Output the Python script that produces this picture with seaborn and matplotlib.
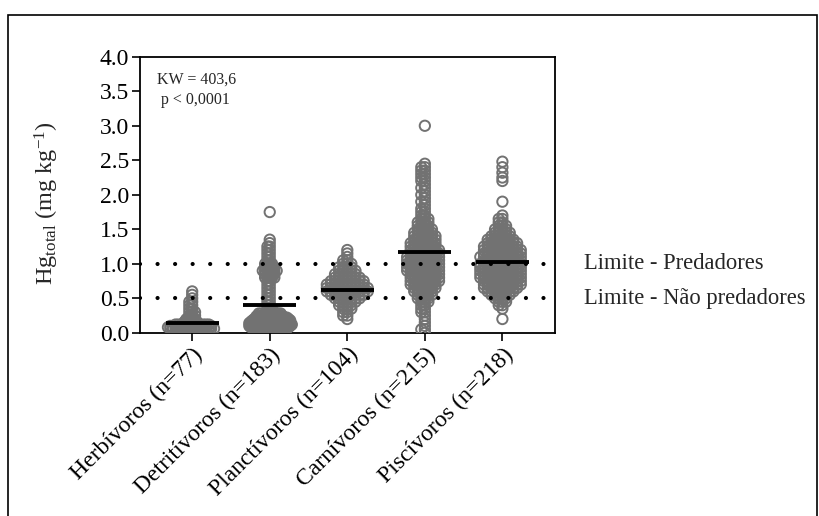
import numpy as np
import pandas as pd
import seaborn as sns
import matplotlib.pyplot as plt
from matplotlib.patches import Rectangle

# Grupos tróficos e valores de Hg (mg/kg): valor -> nº de peixes
grupos = ['Herbívoros (n=77)', 'Detritívoros (n=183)', 'Planctívoros (n=104)',
          'Carnívoros (n=215)', 'Piscívoros (n=218)']

herb_val = [0.02, 0.04, 0.06, 0.08, 0.10, 0.12, 0.14, 0.17, 0.20, 0.25, 0.30, 0.35, 0.40,
            0.45, 0.50, 0.55, 0.60]
herb_n   = [6, 8, 9, 9, 8, 7, 6, 5, 4, 3, 3, 2, 2, 2, 1, 1, 1]

detr_val = [0.02, 0.04, 0.06, 0.08, 0.10, 0.12, 0.14, 0.16, 0.18, 0.20, 0.22, 0.24, 0.26,
            0.28, 0.30, 0.35, 0.40, 0.45, 0.50, 0.55, 0.60, 0.65, 0.70, 0.75, 0.80, 0.85,
            0.90, 0.95, 1.00, 1.05, 1.10, 1.15, 1.20, 1.25, 1.30, 1.35, 1.75]
detr_n   = [6, 8, 9, 10, 11, 11, 11, 10, 10, 9, 8, 7, 6, 5, 4, 3, 2, 2, 2, 2, 2, 2, 2, 2,
            5, 5, 7, 5, 4, 2, 2, 2, 2, 2, 1, 1, 1]

planc_val = [0.20, 0.25, 0.30, 0.35, 0.40, 0.45, 0.50, 0.55, 0.60, 0.65, 0.70, 0.75, 0.80,
             0.85, 0.90, 0.95, 1.00, 1.05, 1.10, 1.15, 1.20]
planc_n   = [1, 2, 2, 3, 4, 5, 7, 9, 11, 11, 10, 9, 7, 6, 5, 4, 3, 2, 1, 1, 1]

carn_val = [0.00, 0.05, 0.10, 0.15, 0.20, 0.25, 0.30, 0.35, 0.40, 0.45, 0.50, 0.55, 0.60,
            0.65, 0.70, 0.75, 0.80, 0.85, 0.90, 0.95, 1.00, 1.05, 1.10, 1.15, 1.20, 1.25,
            1.30, 1.35, 1.40, 1.45, 1.50, 1.55, 1.60, 1.65, 1.70, 1.75, 1.80, 1.85, 1.90,
            1.95, 2.00, 2.05, 2.10, 2.15, 2.20, 2.25, 2.30, 2.35, 2.40, 2.45, 3.00]
carn_n   = [1, 2, 1, 1, 1, 1, 2, 2, 2, 3, 4, 5, 6, 7, 8, 9, 9, 9, 10, 10, 10, 10, 10, 9,
            9, 8, 8, 7, 7, 6, 5, 4, 4, 3, 2, 2, 2, 1, 2, 1, 2, 1, 2, 1, 2, 2, 2, 2, 2, 1, 1]

pisc_val = [0.20, 0.35, 0.40, 0.45, 0.50, 0.55, 0.60, 0.65, 0.70, 0.75, 0.80, 0.85, 0.90,
            0.95, 1.00, 1.05, 1.10, 1.15, 1.20, 1.25, 1.30, 1.35, 1.40, 1.45, 1.50, 1.55,
            1.60, 1.65, 1.70, 1.90, 2.20, 2.25, 2.32, 2.40, 2.48]
pisc_n   = [1, 1, 2, 3, 4, 6, 8, 10, 11, 11, 12, 12, 12, 12, 12, 11, 12, 11, 11, 10, 9, 8,
            6, 5, 4, 3, 2, 2, 1, 1, 1, 1, 1, 1, 1]

medias = [0.14, 0.40, 0.62, 1.17, 1.02]   # linhas pretas (média)
limites = [1.0, 0.5]
limites_txt = ['Limite - Predadores', 'Limite - Não predadores']

df = pd.concat([
    pd.DataFrame({'grupo': g, 'hg': np.repeat(v, n)})
    for g, v, n in zip(grupos,
                       [herb_val, detr_val, planc_val, carn_val, pisc_val],
                       [herb_n, detr_n, planc_n, carn_n, pisc_n])
], ignore_index=True)

sns.set_style('ticks')
plt.rcParams['font.family'] = ['Liberation Serif', 'DejaVu Serif']
plt.rcParams['mathtext.fontset'] = 'custom'
plt.rcParams['mathtext.rm'] = 'Liberation Serif'
plt.rcParams['mathtext.it'] = 'Liberation Serif:italic'

fig = plt.figure(figsize=(8.2, 5.16), dpi=100)
ax = fig.add_axes([0.171, 0.355, 0.506, 0.535])

# swarm com marcador pequeno só para o arranjo (tamanho por grupo),
# depois os círculos crescem e se sobrepõem como no original
tam_arranjo = [2.1, 1.7, 3.0, 2.6, 2.7]
for g, s in zip(grupos, tam_arranjo):
    sns.swarmplot(data=df[df['grupo'] == g], x='grupo', y='hg', order=grupos, size=s,
                  color='#6e6e6e', warn_thresh=1.0, ax=ax)
fig.canvas.draw()
for coll in ax.collections:
    if 'draw' in coll.__dict__:
        del coll.draw
    coll.set_sizes([55])
    coll.set_facecolor('none')
    coll.set_edgecolor('#727272')
    coll.set_linewidth(1.4)

for i, m in enumerate(medias):
    ax.hlines(m, i - 0.34, i + 0.34, color='black', lw=2.8, zorder=5)

for y, t in zip(limites, limites_txt):
    ax.axhline(y, color='black', lw=3, linestyle=(0, (0.01, 4.2)),
               dash_capstyle='round', zorder=4)
    ax.text(1.07, y, t, transform=ax.get_yaxis_transform(), fontsize=16.3,
            va='center', ha='left')

ax.text(0.04, 0.945, 'KW = 403,6\n p < 0,0001', transform=ax.transAxes,
        fontsize=11.5, va='top', ha='left', linespacing=1.3)

ax.set_xlim(-0.67, 4.68)
ax.set_ylim(0, 4.0)
ax.set_yticks(np.arange(0, 4.01, 0.5))
ax.set_yticklabels([f'{v:.1f}' for v in np.arange(0, 4.01, 0.5)])
ax.set_xlabel('')
ax.set_ylabel(r'Hg$_{\mathrm{total}}$ (mg kg$^{-1}$)', fontsize=17.5)
ax.yaxis.set_label_coords(-0.19, 0.47)
ax.tick_params(axis='both', labelsize=17, direction='out', length=6, width=1.2,
               colors='black', pad=2)
plt.setp(ax.get_xticklabels(), rotation=45, ha='right', rotation_mode='anchor')
for s in ax.spines.values():
    s.set_linewidth(1.3)
    s.set_color('black')

# moldura da figura
fig.patches.append(Rectangle((8 / 820, -0.01), 809 / 820, (516 - 15) / 516 + 0.01,
                             transform=fig.transFigure, fill=False, lw=1.2,
                             edgecolor='black'))

fig.savefig('out.png', dpi=100)
